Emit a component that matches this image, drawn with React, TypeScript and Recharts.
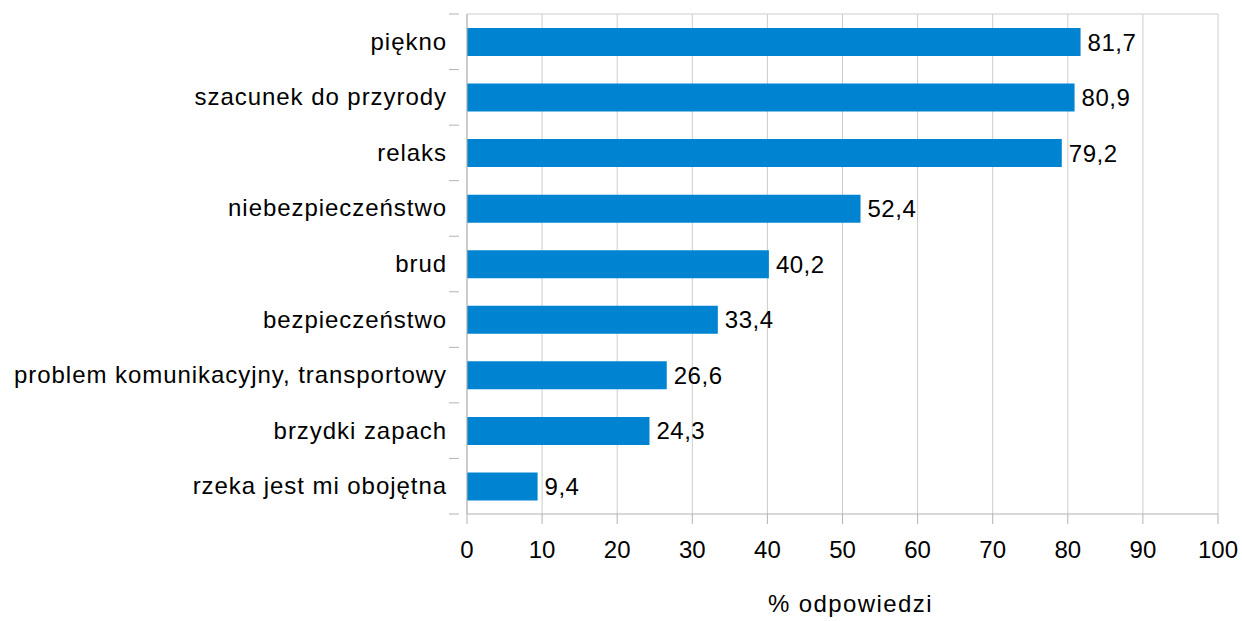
import React from 'react';
import { BarChart, Bar, XAxis, YAxis, CartesianGrid, LabelList } from 'recharts';

const categories = [
  'piękno',
  'szacunek do przyrody',
  'relaks',
  'niebezpieczeństwo',
  'brud',
  'bezpieczeństwo',
  'problem komunikacyjny, transportowy',
  'brzydki zapach',
  'rzeka jest mi obojętna',
];
const values = [81.7, 80.9, 79.2, 52.4, 40.2, 33.4, 26.6, 24.3, 9.4];
const xTicks = [0, 10, 20, 30, 40, 50, 60, 70, 80, 90, 100];

const data = categories.map((c, i) => ({ name: c, value: values[i] }));

const W = 1242;
const H = 621;
const M = { top: 14, right: 24, bottom: 5, left: 0 };
const Y_W = 467;
const X_H = 102;
const plotH = H - M.top - M.bottom - X_H;
const band = plotH / categories.length;
const FONT = 'Liberation Sans, Arial, sans-serif';

const YTick = (props: any) => {
  const { x, y, payload, index } = props;
  return (
    <g>
      <text x={x - 12} y={y} dy={8} textAnchor="end" fontSize={24} letterSpacing={0.95} fill="#000" fontFamily={FONT}>
        {payload.value}
      </text>
      <line x1={x - 10} x2={x} y1={y - band / 2} y2={y - band / 2} stroke="#b3b3b3" />
      {index === categories.length - 1 && (
        <line x1={x - 10} x2={x} y1={y + band / 2} y2={y + band / 2} stroke="#b3b3b3" />
      )}
    </g>
  );
};

const fmt = (v: any) => String(v).replace('.', ',');

export default function App() {
  return (
    <div style={{ position: 'absolute', left: 0, top: 0, background: '#fff' }}>
      <BarChart width={W} height={H} data={data} layout="vertical" margin={M} barCategoryGap={0}>
        <CartesianGrid
          horizontal
          vertical
          stroke="#cccccc"
          horizontalCoordinatesGenerator={({ offset }: any) => [offset.top]}
        />
        <XAxis
          type="number"
          domain={[0, 100]}
          ticks={xTicks}
          interval={0}
          height={X_H}
          stroke="#b3b3b3"
          tickSize={10}
          tick={{ fontSize: 24, fill: '#000', fontFamily: FONT, dy: 15 }}
          label={{ value: '% odpowiedzi', position: 'insideBottom', offset: 4, fontSize: 24, fill: '#000', fontFamily: FONT, dx: 8, letterSpacing: 1.4 }}
        />
        <YAxis
          type="category"
          dataKey="name"
          width={Y_W}
          stroke="#b3b3b3"
          tickLine={false}
          tick={<YTick />}
          interval={0}
        />
        <Bar dataKey="value" fill="#0084d1" barSize={28} isAnimationActive={false}>
          <LabelList dataKey="value" position="right" offset={7} formatter={fmt} fontSize={24} letterSpacing={0.5} fill="#000" fontFamily={FONT} />
        </Bar>
      </BarChart>
    </div>
  );
}
